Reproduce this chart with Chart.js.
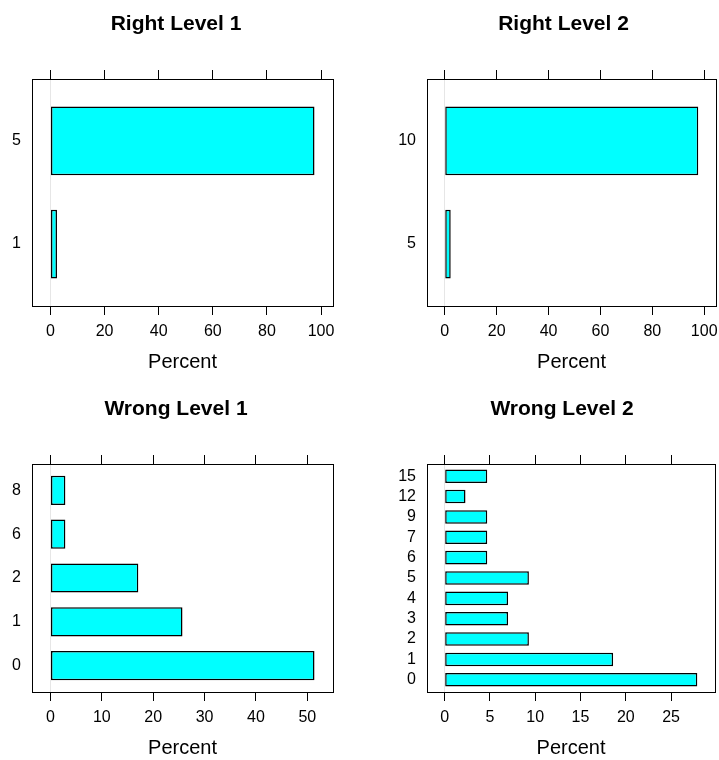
<!DOCTYPE html>
<html>
<head>
<meta charset="utf-8">
<script src="https://cdn.jsdelivr.net/npm/chart.js@4.4.1/dist/chart.umd.min.js"></script>
<style>
  html, body { margin: 0; padding: 0; background: #fff; overflow: hidden; }
  #page { position: relative; width: 719px; height: 760px; }
  .panel { position: absolute; }
  .panel canvas { display: block; }
</style>
</head>
<body>
<div id="page">
  <div class="panel" style="left:0px;top:0px"><canvas id="c1" width="380" height="385"></canvas></div>
  <div class="panel" style="left:380px;top:0px"><canvas id="c2" width="339" height="385"></canvas></div>
  <div class="panel" style="left:0px;top:385px"><canvas id="c3" width="380" height="375"></canvas></div>
  <div class="panel" style="left:380px;top:385px"><canvas id="c4" width="339" height="375"></canvas></div>
</div>
<script>
// percent of answers per level (categories run bottom -> top)
const rightL1Cats = ['1', '5'];
const rightL1Vals = [2.4, 97.6];
const rightL1Ticks = [0, 20, 40, 60, 80, 100];

const rightL2Cats = ['5', '10'];
const rightL2Vals = [2.3, 97.7];
const rightL2Ticks = [0, 20, 40, 60, 80, 100];

const wrongL1Cats = ['0', '1', '2', '6', '8'];
const wrongL1Vals = [51.4, 25.7, 17.1, 2.9, 2.9];
const wrongL1Ticks = [0, 10, 20, 30, 40, 50];

const wrongL2Cats = ['0', '1', '2', '3', '4', '5', '6', '7', '9', '12', '15'];
const wrongL2Vals = [27.9, 18.6, 9.3, 7.0, 7.0, 9.3, 4.7, 4.7, 4.7, 2.3, 4.7];
const wrongL2Ticks = [0, 5, 10, 15, 20, 25];

Chart.defaults.font.family = '"Liberation Sans", Arial, Helvetica, sans-serif';
Chart.defaults.color = '#000';

// box around the plot area, like lattice panels
const framePlugin = {
    id: 'frame',
    afterLayout(chart) {
        // let the y labels spill into the layout padding instead of being clipped
        chart.scales.y.left = 0;
    },
    afterDatasetsDraw(chart) {
        const a = chart.chartArea;
        const ctx = chart.ctx;
        ctx.save();
        ctx.strokeStyle = '#000';
        ctx.lineWidth = 1;
        ctx.strokeRect(Math.round(a.left) + 0.5, Math.round(a.top) + 0.5,
            Math.round(a.right - a.left), Math.round(a.bottom - a.top));
        ctx.restore();
    }
};

function makePanel(canvasId, title, cats, vals, ticks, lay) {
    const maxVal = Math.max(...vals);
    const xMin = -0.07 * maxVal;
    const xMax = maxVal * 1.07;
    const xTickFn = (scale) => { scale.ticks = ticks.map(v => ({ value: v })); };

    const ctx = document.getElementById(canvasId).getContext('2d');
    return new Chart(ctx, {
        type: 'bar',
        data: {
            datasets: [{
                data: vals.map((v, i) => ({ x: v, y: i + 1 })),
                xAxisID: 'x',
                yAxisID: 'y',
                backgroundColor: '#00FFFF',
                borderColor: '#000',
                borderWidth: 1.5,
                borderSkipped: false,
                categoryPercentage: 1,
                barPercentage: 0.667
            }]
        },
        options: {
            indexAxis: 'y',
            responsive: false,
            animation: false,
            events: [],
            layout: { padding: { left: lay.padL, right: lay.padR, top: 0, bottom: lay.padB } },
            plugins: {
                legend: { display: false },
                tooltip: { enabled: false },
                title: {
                    display: true,
                    text: title,
                    color: '#000',
                    font: { size: 21, weight: 'bold', lineHeight: 1.2 },
                    padding: { top: 12, bottom: 0 }
                }
            },
            scales: {
                x: {
                    type: 'linear',
                    position: 'bottom',
                    min: xMin,
                    max: xMax,
                    afterBuildTicks: xTickFn,
                    afterFit: (s) => { s.height = 68; s.paddingLeft = 0; s.paddingRight = 0; },
                    border: { display: false },
                    grid: {
                        color: (c) => (c.tick && c.tick.value === 0) ? '#e6e6e6' : 'rgba(0,0,0,0)',
                        tickColor: '#000',
                        tickLength: 9,
                        lineWidth: 1
                    },
                    ticks: { padding: 7, font: { size: 16 }, maxRotation: 0 },
                    title: {
                        display: true,
                        text: 'Percent',
                        font: { size: 20, lineHeight: 1.2 },
                        padding: { top: 0, bottom: 0 }
                    }
                },
                x2: {
                    type: 'linear',
                    axis: 'x',
                    position: 'top',
                    min: xMin,
                    max: xMax,
                    afterBuildTicks: xTickFn,
                    afterFit: (s) => { s.height = 41.8; s.paddingLeft = 0; s.paddingRight = 0; },
                    border: { display: false },
                    grid: { drawOnChartArea: false, tickColor: '#000', tickLength: 9, lineWidth: 1 },
                    ticks: { display: false }
                },
                y: {
                    type: 'linear',
                    position: 'left',
                    offset: false,
                    min: 0.4,
                    max: cats.length + 0.6,
                    afterBuildTicks: (scale) => { scale.ticks = cats.map((c, i) => ({ value: i + 1 })); },
                    afterFit: (s) => { s.width = lay.yWidth; s.paddingTop = 0; s.paddingBottom = 0; },
                    border: { display: false },
                    grid: { display: false, drawTicks: false },
                    ticks: {
                        padding: 11,
                        font: { size: 16 },
                        callback: (v) => cats[Math.round(v) - 1]
                    }
                }
            }
        },
        plugins: [framePlugin]
    });
}

makePanel('c1', 'Right Level 1', rightL1Cats, rightL1Vals, rightL1Ticks, { padL: 19, padR: 47, padB: 11, yWidth: 13 });
makePanel('c2', 'Right Level 2', rightL2Cats, rightL2Vals, rightL2Ticks, { padL: 31, padR: 3, padB: 11, yWidth: 16 });
makePanel('c3', 'Wrong Level 1', wrongL1Cats, wrongL1Vals, wrongL1Ticks, { padL: 19, padR: 47, padB: 0, yWidth: 13 });
makePanel('c4', 'Wrong Level 2', wrongL2Cats, wrongL2Vals, wrongL2Ticks, { padL: 29, padR: 4, padB: 0, yWidth: 18 });
</script>
</body>
</html>
